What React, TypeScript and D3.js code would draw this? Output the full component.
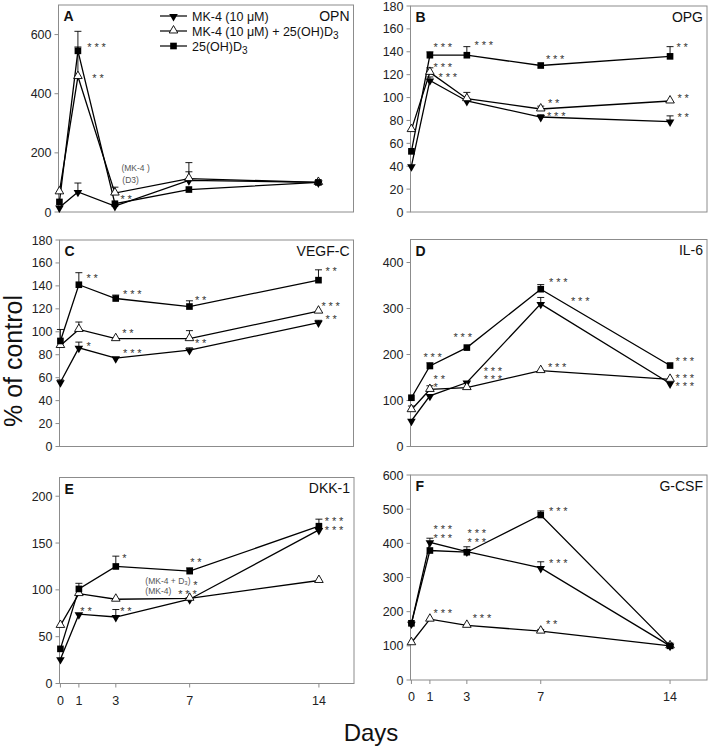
import React from 'react';
import * as d3 from 'd3';

// ---------- data ----------
const DAYS = [0, 1, 3, 7, 14];
const X_TICK_LABELS = ['0', '1', '3', '7', '14'];
const LEGEND_LABELS = ['MK-4 (10 μM)', 'MK-4 (10 μM) + 25(OH)D3', '25(OH)D3'];

// A: OPN
const OPN_MK4 = [15, 68, 20, 107, 100];
const OPN_MK4_ERR = [0, 30, 0, 29, 0];
const OPN_COMBO = [68, 458, 64, 113, 100];
const OPN_COMBO_ERR = [0, 100, 20, 54, 0];
const OPN_D3 = [34, 545, 28, 76, 100];
const OPN_D3_ERR = [0, 66, 0, 0, 0];

// B: OPG
const OPG_MK4 = [40, 115, 97, 83, 79];
const OPG_MK4_ERR = [0, 3, 0, 2, 5];
const OPG_COMBO = [72, 122, 99, 90, 97];
const OPG_COMBO_ERR = [0, 4, 5.5, 2.5, 0];
const OPG_D3 = [53, 137, 137, 128, 136];
const OPG_D3_ERR = [0, 3, 7.5, 0, 8.5];

// C: VEGF-C
const VEGF_MK4 = [56, 86, 77, 84, 108];
const VEGF_MK4_ERR = [2, 5, 0, 2, 2];
const VEGF_COMBO = [88, 102, 94, 94, 118];
const VEGF_COMBO_ERR = [0, 6.5, 0, 7, 0];
const VEGF_D3 = [92, 141, 129, 122, 145];
const VEGF_D3_ERR = [10, 10.5, 3, 5, 9];

// D: IL-6
const IL6_MK4 = [56, 110, 139, 310, 137];
const IL6_MK4_ERR = [0, 0, 0, 14, 0];
const IL6_COMBO = [80, 124, 128, 165, 146];
const IL6_COMBO_ERR = [8, 8, 0, 0, 0];
const IL6_D3 = [106, 175, 215, 342, 176];
const IL6_D3_ERR = [0, 7, 0, 10, 0];

// E: DKK-1
const DKK_MK4 = [26, 74, 71, 90, 164];
const DKK_MK4_ERR = [0, 0, 8, 0, 0];
const DKK_COMBO = [62, 96, 90, 91, 110];
const DKK_COMBO_ERR = [0, 0, 0, 0, 0];
const DKK_D3 = [37, 101, 125, 120, 168];
const DKK_D3_ERR = [0, 6, 11, 3.5, 7.5];

// F: G-CSF
const GCSF_MK4 = [165, 403, 376, 328, 100];
const GCSF_MK4_ERR = [0, 12, 0, 18, 0];
const GCSF_COMBO = [109, 178, 160, 143, 100];
const GCSF_COMBO_ERR = [0, 0, 0, 5, 0];
const GCSF_D3 = [166, 379, 374, 483, 100];
const GCSF_D3_ERR = [0, 0, 16, 12, 0];

// significance annotations: [day, value of first row, text ('\n' = stacked row)]
const OPN_NOTES: [number, number, string][] = [
  [1.51, 565, '***'], [1.78, 463, '**'], [3.3, 51, '**'],
];
const OPN_SMALL: [number, number, string][] = [
  [3.35, 149, '(MK-4 )'], [3.4, 108, '(D3)'],
];
const OPG_NOTES: [number, number, string][] = [
  [1.2, 146, '***'], [3.42, 148, '***'], [7.28, 136, '***'], [14.35, 146, '**'],
  [1.2, 128.5, '***'], [1.47, 120.5, '***'], [7.39, 97, '**'], [7.34, 86, '***'],
  [14.4, 102, '**'], [14.4, 85, '**'],
];
const VEGF_NOTES: [number, number, string][] = [
  [1.41, 149, '**'], [3.4, 135, '***'], [7.3, 130, '**'], [14.38, 155, '**'],
  [14.16, 125, '***'], [14.38, 113.5, '**'], [3.35, 101, '**'], [1.41, 90, '*'],
  [3.4, 84, '***'], [7.3, 92, '**'],
];
const IL6_NOTES: [number, number, string][] = [
  [7.45, 364, '***'], [8.64, 322, '***'], [2.28, 244, '***'], [0.65, 201, '***'],
  [1.2, 153, '**\n*'], [3.91, 170, '***\n***'],
  [7.39, 179, '***'], [14.3, 192, '***'], [14.3, 155, '***\n***'],
];
const DKK_NOTES: [number, number, string][] = [
  [3.35, 137, '*'], [7.03, 132, '**'], [7.19, 108, '*'], [6.38, 98.5, '***'],
  [1.08, 80, '**'], [3.24, 80, '**'], [14.32, 176, '***\n***'],
];
const DKK_SMALL: [number, number, string][] = [
  [4.6, 109, '(MK-4 + D₃)'], [4.6, 98.5, '(MK-4)'],
];
const GCSF_NOTES: [number, number, string][] = [
  [7.45, 503, '***'], [1.2, 449, '***\n***'], [3.04, 437, '***\n***'],
  [7.45, 351, '***'], [1.2, 202, '***'], [3.32, 190, '***'],
  [7.28, 170, '**'],
];

const OPN_TICKS = [0, 200, 400, 600];
const OPG_TICKS = [0, 20, 40, 60, 80, 100, 120, 140, 160, 180];
const VEGF_TICKS = [0, 20, 40, 60, 80, 100, 120, 140, 160, 180];
const IL6_TICKS = [0, 100, 200, 300, 400];
const DKK_TICKS = [0, 50, 100, 150, 200];
const GCSF_TICKS = [0, 100, 200, 300, 400, 500, 600];

// ---------- styles ----------
const FONT = '"Liberation Sans", Arial, sans-serif';
const GRID = '#8c8c8c';

const triDown = d3.symbol().type(d3.symbolTriangle).size(32)();
const triUp = d3.symbol().type(d3.symbolTriangle).size(32)();
const square = d3.symbol().type(d3.symbolSquare).size(44)();

function Marker({ kind, x, y }: { kind: number; x: number; y: number }) {
  if (kind === 0)
    return <path d={triDown!} transform={`translate(${x},${y + 0.5}) rotate(180)`} fill="#000" />;
  if (kind === 1)
    return <path d={triUp!} transform={`translate(${x},${y - 0.5})`} fill="#fff" stroke="#000" strokeWidth={0.9} />;
  return <path d={square!} transform={`translate(${x},${y})`} fill="#000" />;
}

function LegendText({ text }: { text: string }) {
  if (text.endsWith('D3')) {
    return (
      <>
        {text.slice(0, -1)}
        <tspan dy={3.5} fontSize="0.8em">3</tspan>
      </>
    );
  }
  return <>{text}</>;
}

type PanelProps = {
  l: number; t: number; r: number; b: number; xMax: number;
  yMax: number; ticks: number[];
  series: number[][]; errs: number[][];
  notes: [number, number, string][]; small?: [number, number, string][];
  letter: string; name: string; xLabels?: boolean; legend?: boolean;
};

function Panel(p: PanelProps) {
  const x = d3.scaleLinear().domain([-0.05, p.xMax]).range([p.l, p.r]);
  const y = d3.scaleLinear().domain([0, p.yMax]).range([p.b, p.t]);
  const line = d3.line<number>().x((_, i) => x(DAYS[i])).y((v) => y(v));
  return (
    <g fontFamily={FONT}>
      <rect x={p.l} y={p.t} width={p.r - p.l} height={p.b - p.t} fill="none" stroke={GRID} strokeWidth={1} />
      {p.ticks.map((tv) => (
        <g key={tv}>
          <line x1={p.l - 4} x2={p.l} y1={y(tv)} y2={y(tv)} stroke={GRID} />
          <text x={p.l - 7} y={y(tv) + 4.5} fontSize={12.5} textAnchor="end" fill="#222">{tv}</text>
        </g>
      ))}
      {p.xLabels && DAYS.map((dv, i) => (
        <g key={dv}>
          <line x1={x(dv)} x2={x(dv)} y1={p.b} y2={p.b + 4} stroke={GRID} />
          <text x={x(dv)} y={p.b + 21} fontSize={12.5} textAnchor="middle" fill="#222">{X_TICK_LABELS[i]}</text>
        </g>
      ))}
      {p.series.map((s, si) => (
        <g key={si}>
          {s.map((v, i) => p.errs[si][i] > 0 ? (
            <g key={i} stroke="#000" strokeWidth={0.9}>
              <line x1={x(DAYS[i])} x2={x(DAYS[i])} y1={y(v)} y2={y(v + p.errs[si][i])} />
              <line x1={x(DAYS[i]) - 3.5} x2={x(DAYS[i]) + 3.5} y1={y(v + p.errs[si][i])} y2={y(v + p.errs[si][i])} />
            </g>
          ) : null)}
        </g>
      ))}
      {p.series.map((s, si) => (
        <path key={si} d={line(s)!} fill="none" stroke="#000" strokeWidth={1.3} />
      ))}
      {p.series.map((s, si) => (
        <g key={si}>{s.map((v, i) => <Marker key={i} kind={si} x={x(DAYS[i])} y={y(v)} />)}</g>
      ))}
      {p.notes.map(([dv, v, txt], i) => (
        <text key={i} x={x(dv)} y={y(v) + 6.5} fontSize={11} letterSpacing={2.8} fill="#333">
          {txt.split('\n').map((row, j) => (
            <tspan key={j} x={x(dv)} dy={j === 0 ? 0 : 8.5}>{row}</tspan>
          ))}
        </text>
      ))}
      {p.small && p.small.map(([dv, v, txt], i) => (
        <text key={i} x={x(dv)} y={y(v) + 3} fontSize={8.5} fill="#555">{txt}</text>
      ))}
      <text x={p.l + 5} y={p.t + 16} fontSize={14} fontWeight="bold" fill="#111">{p.letter}</text>
      <text x={p.r - 4} y={p.t + 15.5} fontSize={14} textAnchor="end" fill="#111">{p.name}</text>
      {p.legend && LEGEND_LABELS.map((lab, i) => (
        <g key={lab}>
          <line x1={160} x2={187} y1={16 + i * 15} y2={16 + i * 15} stroke="#000" strokeWidth={1.2} />
          <Marker kind={i} x={173.5} y={16 + i * 15} />
          <text x={192} y={20.5 + i * 15} fontSize={12.5} fill="#111"><LegendText text={lab} /></text>
        </g>
      ))}
    </g>
  );
}

export default function App() {
  return (
    <svg width={709} height={750} style={{ position: 'absolute', left: 0, top: 0, background: '#fff' }}>
      <rect width={709} height={750} fill="#fff" />
      <Panel l={58.5} t={5} r={353.5} b={212} xMax={15.9} yMax={700} ticks={OPN_TICKS}
        series={[OPN_MK4, OPN_COMBO, OPN_D3]} errs={[OPN_MK4_ERR, OPN_COMBO_ERR, OPN_D3_ERR]}
        notes={OPN_NOTES} small={OPN_SMALL} letter="A" name="OPN" legend />
      <Panel l={410.5} t={6} r={707} b={212} xMax={16} yMax={180} ticks={OPG_TICKS}
        series={[OPG_MK4, OPG_COMBO, OPG_D3]} errs={[OPG_MK4_ERR, OPG_COMBO_ERR, OPG_D3_ERR]}
        notes={OPG_NOTES} letter="B" name="OPG" />
      <Panel l={59.5} t={240} r={353.5} b={446.5} xMax={15.9} yMax={180} ticks={VEGF_TICKS}
        series={[VEGF_MK4, VEGF_COMBO, VEGF_D3]} errs={[VEGF_MK4_ERR, VEGF_COMBO_ERR, VEGF_D3_ERR]}
        notes={VEGF_NOTES} letter="C" name="VEGF-C" />
      <Panel l={410.5} t={239.5} r={707} b={446.5} xMax={16} yMax={450} ticks={IL6_TICKS}
        series={[IL6_MK4, IL6_COMBO, IL6_D3]} errs={[IL6_MK4_ERR, IL6_COMBO_ERR, IL6_D3_ERR]}
        notes={IL6_NOTES} letter="D" name="IL-6" />
      <Panel l={59.5} t={477.5} r={354} b={683.5} xMax={15.9} yMax={220} ticks={DKK_TICKS}
        series={[DKK_MK4, DKK_COMBO, DKK_D3]} errs={[DKK_MK4_ERR, DKK_COMBO_ERR, DKK_D3_ERR]}
        notes={DKK_NOTES} small={DKK_SMALL} letter="E" name="DKK-1" xLabels />
      <Panel l={410.5} t={475} r={707} b={680} xMax={16} yMax={600} ticks={GCSF_TICKS}
        series={[GCSF_MK4, GCSF_COMBO, GCSF_D3]} errs={[GCSF_MK4_ERR, GCSF_COMBO_ERR, GCSF_D3_ERR]}
        notes={GCSF_NOTES} letter="F" name="G-CSF" xLabels />
      <text transform="translate(22,361) rotate(-90)" fontFamily={FONT} fontSize={25} textAnchor="middle" fill="#111">% of control</text>
      <text x={371} y={741} fontFamily={FONT} fontSize={24} textAnchor="middle" fill="#111">Days</text>
    </svg>
  );
}
